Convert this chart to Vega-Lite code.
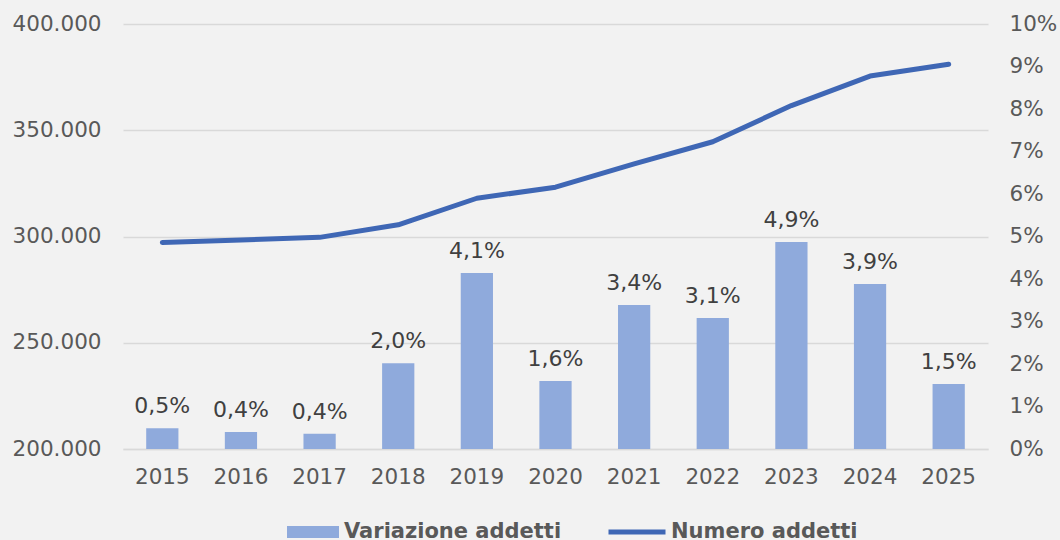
{
  "$schema": "https://vega.github.io/schema/vega-lite/v6.json",
  "width": 865,
  "height": 425,
  "autosize": {"type": "none"},
  "padding": {"left": 123, "top": 24, "right": 72, "bottom": 91},
  "background": "#f2f2f2",
  "config": {
    "locale": {"number": {"decimal": ",", "thousands": ".", "grouping": [3], "currency": ["€", ""]}},
    "view": {"stroke": null},
    "font": "DejaVu Sans",
    "axis": {"labelFont": "DejaVu Sans", "labelFontSize": 21.5, "labelColor": "#595959", "ticks": false, "domain": false, "grid": false, "title": null},
    "legend": {
      "labelFont": "DejaVu Sans",
      "labelFontSize": 21,
      "labelFontWeight": "bold",
      "labelColor": "#595959",
      "labelOffset": 5,
      "labelLimit": 400,
      "title": null
    }
  },
  "data": {
    "values": [
      {"anno": "2015", "variazione": 0.0049, "addetti": 297200},
      {"anno": "2016", "variazione": 0.0040, "addetti": 298400},
      {"anno": "2017", "variazione": 0.0036, "addetti": 299600},
      {"anno": "2018", "variazione": 0.0202, "addetti": 305500},
      {"anno": "2019", "variazione": 0.0414, "addetti": 318000},
      {"anno": "2020", "variazione": 0.0160, "addetti": 323200},
      {"anno": "2021", "variazione": 0.0339, "addetti": 334200},
      {"anno": "2022", "variazione": 0.0308, "addetti": 344600},
      {"anno": "2023", "variazione": 0.0487, "addetti": 361600},
      {"anno": "2024", "variazione": 0.0388, "addetti": 375500},
      {"anno": "2025", "variazione": 0.0153, "addetti": 381100}
    ]
  },
  "encoding": {
    "x": {
      "field": "anno",
      "type": "ordinal",
      "scale": {"paddingInner": 0.59, "paddingOuter": 0.295},
      "axis": {"labelAngle": 0, "domain": true, "domainColor": "#d9d9d9", "domainWidth": 1.5, "labelPadding": 17, "title": null}
    }
  },
  "layer": [
    {
      "layer": [
        {
          "mark": {"type": "bar", "color": "#8faadc"},
          "encoding": {
            "y": {
              "field": "variazione",
              "type": "quantitative",
              "scale": {"domain": [0, 0.1]},
              "axis": {"orient": "right", "values": [0, 0.01, 0.02, 0.03, 0.04, 0.05, 0.06, 0.07, 0.08, 0.09, 0.1], "format": ".0%", "labelPadding": 21, "title": null}
            },
            "fill": {
              "datum": "Variazione addetti",
              "type": "nominal",
              "scale": {"range": ["#8faadc"]},
              "legend": {"orient": "none", "legendX": 164, "legendY": 482, "symbolType": "M-1,-0.23H1V0.23H-1Z", "symbolSize": 2704, "symbolStrokeWidth": 0}
            }
          }
        },
        {
          "mark": {"type": "text", "dy": -10, "baseline": "bottom", "fontSize": 22, "font": "DejaVu Sans", "color": "#404040"},
          "encoding": {
            "y": {"field": "variazione", "type": "quantitative"},
            "text": {"field": "variazione", "type": "quantitative", "format": ".1%"}
          }
        }
      ]
    },
    {
      "mark": {"type": "line", "strokeWidth": 5, "strokeCap": "round", "strokeJoin": "round", "color": "#3f67b5"},
      "encoding": {
        "y": {
          "field": "addetti",
          "type": "quantitative",
          "scale": {"domain": [200000, 400000]},
          "axis": {"orient": "left", "values": [200000, 250000, 300000, 350000, 400000], "format": ",.0f", "grid": true, "gridColor": "#d9d9d9", "gridWidth": 1.5, "labelPadding": 22, "title": null}
        },
        "stroke": {
          "datum": "Numero addetti",
          "type": "nominal",
          "scale": {"range": ["#3f67b5"]},
          "legend": {"orient": "none", "legendX": 483, "legendY": 477, "labelOffset": 3, "symbolType": "stroke", "symbolSize": 3249, "symbolStrokeWidth": 5}
        }
      }
    }
  ],
  "resolve": {"scale": {"y": "independent", "fill": "independent", "stroke": "independent"}}
}
